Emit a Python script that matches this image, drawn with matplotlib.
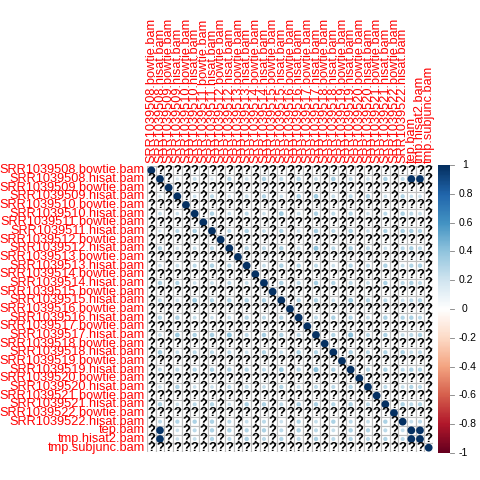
import numpy as np
import matplotlib
matplotlib.use("Agg")
import matplotlib.pyplot as plt
from matplotlib.colors import LinearSegmentedColormap, Normalize
from matplotlib.patches import Rectangle, Circle

plt.rcParams['font.family'] = ['Liberation Sans', 'DejaVu Sans']

samples = ["08", "09", "10", "11", "12", "13", "14", "15",
           "16", "17", "18", "19", "20", "21", "22"]
labels = []
for s in samples:
  labels.append("SRR10395" + s + ".bowtie.bam")
  labels.append("SRR10395" + s + ".hisat.bam")
labels += ["tep.bam", "tmp.hisat2.bam", "tmp.subjunc.bam"]

# files that have correlation values (the rest are NA apart from the diagonal)
valid = [l for l in labels if l.endswith(".hisat.bam")] + ["tep.bam", "tmp.hisat2.bam"]

# upper triangle of the correlation among the valid files, row by row
upper = [
  [0.18, 0.24, 0.18, 0.30, 0.22, 0.32, 0.26, 0.30, 0.24, 0.34, 0.26, 0.22, 0.32, 0.26, 0.98, 0.98],
  [0.22, 0.27, 0.20, 0.24, 0.30, 0.22, 0.32, 0.36, 0.24, 0.27, 0.32, 0.22, 0.30, 0.22, 0.22],
  [0.32, 0.24, 0.27, 0.22, 0.36, 0.24, 0.32, 0.27, 0.30, 0.22, 0.27, 0.32, 0.27, 0.24],
  [0.27, 0.32, 0.24, 0.30, 0.22, 0.34, 0.27, 0.32, 0.22, 0.30, 0.32, 0.32, 0.30],
  [0.30, 0.27, 0.32, 0.24, 0.40, 0.27, 0.32, 0.27, 0.22, 0.27, 0.32, 0.27],
  [0.24, 0.32, 0.30, 0.27, 0.22, 0.30, 0.27, 0.32, 0.24, 0.30, 0.32],
  [0.32, 0.27, 0.34, 0.30, 0.27, 0.24, 0.32, 0.27, 0.32, 0.27],
  [0.30, 0.32, 0.24, 0.37, 0.30, 0.27, 0.22, 0.27, 0.30],
  [0.27, 0.32, 0.30, 0.24, 0.32, 0.30, 0.32, 0.27],
  [0.30, 0.42, 0.27, 0.32, 0.24, 0.27, 0.32],
  [0.32, 0.27, 0.30, 0.32, 0.24, 0.27],
  [0.30, 0.32, 0.27, 0.32, 0.30],
  [0.27, 0.24, 0.30, 0.27],
  [0.32, 0.27, 0.30],
  [0.24, 0.27],
  [0.99],
]

n = len(labels)
corr = np.full((n, n), np.nan)
np.fill_diagonal(corr, 1.0)
vidx = [labels.index(v) for v in valid]
for i, row in enumerate(upper):
  for k, val in enumerate(row):
    j = i + 1 + k
    corr[vidx[i], vidx[j]] = val
    corr[vidx[j], vidx[i]] = val

cmap = LinearSegmentedColormap.from_list("rdbu", [
  "#67001F", "#B2182B", "#D6604D", "#F4A582", "#FDDBC7", "#FFFFFF",
  "#D1E5F0", "#92C5DE", "#4393C3", "#2166AC", "#053061"])
norm = Normalize(-1, 1)

fig = plt.figure(figsize=(4.8, 4.8), dpi=100)
ax = fig.add_axes([147/480, 1 - 452/480, 286/480, 286/480])
ax.set_xlim(0, n)
ax.set_ylim(n, 0)
ax.axis("off")

for r in range(n):
  for c in range(n):
    ax.add_patch(Rectangle((c, r), 1, 1, facecolor="white", edgecolor="#BEBEBE", lw=0.8))
    v = corr[r, c]
    if np.isnan(v):
      ax.text(c + 0.5, r + 0.55, "?", ha="center", va="center", fontsize=9.2,
              fontweight="bold", color="black")
    else:
      ax.add_patch(Circle((c + 0.5, r + 0.5), 0.45 * np.sqrt(abs(v)),
                          facecolor=cmap(norm(v)), edgecolor="none"))

for i, lab in enumerate(labels):
  ax.text(-0.25, i + 0.5, lab, ha="right", va="center", color="red", fontsize=9.2, clip_on=False)
  ax.text(i + 0.5, -0.3, lab, ha="center", va="bottom", rotation=90, color="red",
          fontsize=9.2, clip_on=False)

# colour legend
cax = fig.add_axes([438/480, 1 - 453/480, 12/480, 288/480])
grad = np.linspace(-1, 1, 200).reshape(-1, 1)
cax.imshow(grad, cmap=cmap, norm=norm, aspect="auto", origin="lower", extent=[0, 1, -1, 1])
cax.set_xlim(0, 1)
cax.set_ylim(-1, 1)
cax.axis("off")
ticks = [1, 0.8, 0.6, 0.4, 0.2, 0, -0.2, -0.4, -0.6, -0.8, -1]
tick_labels = ["1", "0.8", "0.6", "0.4", "0.2", "0", "-0.2", "-0.4", "-0.6", "-0.8", "-1"]
for t, tl in zip(ticks, tick_labels):
  cax.plot([1, 1.3], [t, t], color="grey", lw=0.6, clip_on=False)
  xoff = 2.0 if tl in ("1", "0") else 1.7
  cax.text(xoff, t, tl, ha="left", va="center", fontsize=7.5, clip_on=False)

fig.savefig("out.png", dpi=100)
